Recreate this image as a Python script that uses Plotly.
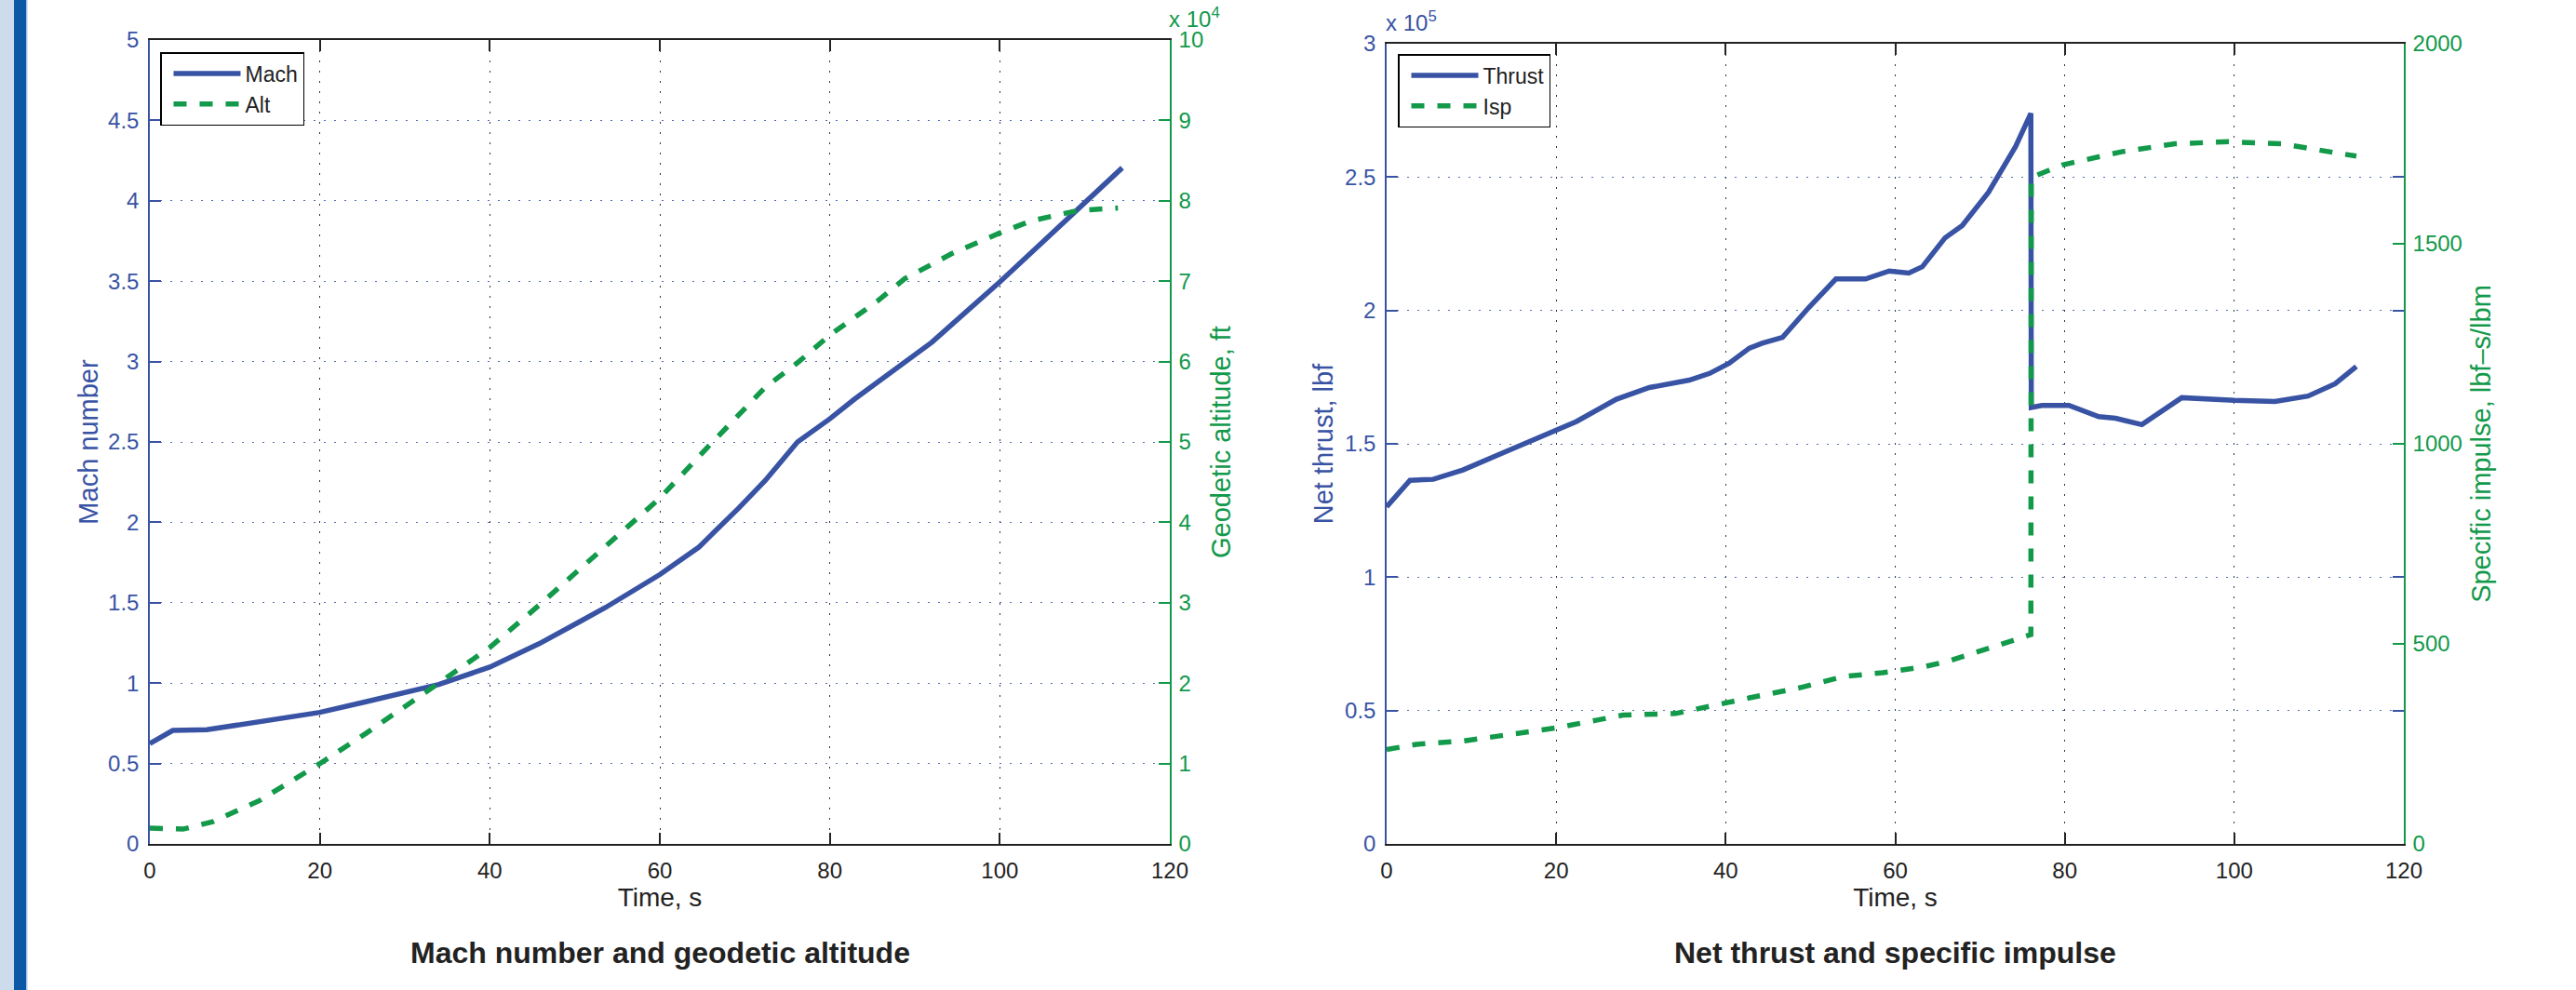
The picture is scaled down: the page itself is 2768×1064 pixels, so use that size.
import plotly.graph_objects as go

# ---- Mach number and geodetic altitude vs time ----
mach_time = [0, 2.7, 6.7, 11.4, 20, 25.4, 34, 40, 45.8, 50.5, 53.6, 60, 64.6, 69.3,
             72.4, 76.2, 80, 82.9, 88.8, 92, 100, 105.3, 114.4]
mach = [0.624, 0.706, 0.71, 0.746, 0.818, 0.884, 0.992, 1.10, 1.245, 1.38, 1.47, 1.675,
        1.846, 2.09, 2.26, 2.50, 2.644, 2.766, 2.99, 3.12, 3.495, 3.76, 4.205]

alt_time = [0, 3.9, 7.4, 12.9, 20, 25.4, 34, 40, 45.8, 53.6, 60, 65.4, 72.4, 76.2, 80,
            85.7, 88.8, 94.3, 100, 103.7, 109.2, 113.9]
alt_ft = [1970, 1840, 2760, 5390, 9990, 13730, 20000, 24440, 29700, 36900, 43000, 49100,
          56800, 59850, 63300, 67600, 70300, 73400, 76000, 77500, 78800, 79100]

# ---- Net thrust and specific impulse vs time ----
thrust_time = [0, 2.75, 5.5, 9.0, 13.7, 18.4, 22.4, 27.1, 31, 35.7, 38.1, 40.4, 42.8, 44.3,
               46.7, 49.8, 53, 56.5, 59.3, 61.6, 63.2, 65.9, 67.9, 71, 74.2, 76.0, 76.05,
               77.3, 80.5, 84, 86, 89.1, 93.8, 100, 104.8, 108.7, 111.9, 114.4]
thrust_lbf = [126400, 136300, 136700, 140200, 146600, 152700, 158400, 166700, 171100, 173900,
              176400, 180200, 185900, 187700, 189900, 201100, 211800, 211800, 214800, 214000,
              216400, 227300, 231800, 244300, 261500, 273900, 163600, 164400, 164400, 160200,
              159600, 157200, 167300, 166300, 165900, 167900, 172500, 179000]

isp_time = [0, 3.5, 9, 14.5, 20, 24.7, 27.9, 34.1, 38.1, 42.8, 49.1, 53.8, 58.5, 63.2, 66.3,
            70.3, 76.0, 76.05, 79.7, 86.7, 93, 99.3, 105.6, 109.5, 114.4]
isp_s = [236, 249, 257, 273, 290, 309, 322, 326, 345, 365, 392, 418, 428, 442, 457, 484, 523,
         1666, 1697, 1730, 1750, 1755, 1750, 1736, 1719]

# ---- tick definitions ----
time_ticks = [0, 20, 40, 60, 80, 100, 120]
alt_tickvals = [0, 10000, 20000, 30000, 40000, 50000, 60000, 70000, 80000, 90000, 100000]
alt_ticktext = ["0", "1", "2", "3", "4", "5", "6", "7", "8", "9", "10"]
thrust_tickvals = [0, 50000, 100000, 150000, 200000, 250000, 300000]
thrust_ticktext = ["0", "0.5", "1", "1.5", "2", "2.5", "3"]
isp_tickvals = [0, 500, 1000, 1500, 2000]

W, H = 2768, 1064
BLUE = "#3953A4"
GREEN = "#12994A"
BLUE_GRID = "rgba(57,83,164,0.85)"
BLACK = "#222222"
FONT = "Liberation Sans, Arial, sans-serif"
LW = 5.5
DASH = "14px,14px"


def px_x(p):
    return p / W


def px_y(p):
    return 1 - p / H


fig = go.Figure()

fig.add_trace(go.Scatter(x=mach_time, y=mach, name="Mach", mode="lines",
                         line=dict(color=BLUE, width=LW), xaxis="x", yaxis="y",
                         legend="legend"))
fig.add_trace(go.Scatter(x=alt_time, y=alt_ft, name="Alt", mode="lines",
                         line=dict(color=GREEN, width=LW, dash=DASH), xaxis="x", yaxis="y2",
                         legend="legend"))
fig.add_trace(go.Scatter(x=thrust_time, y=thrust_lbf, name="Thrust", mode="lines",
                         line=dict(color=BLUE, width=LW), xaxis="x2", yaxis="y3",
                         legend="legend2"))
fig.add_trace(go.Scatter(x=isp_time, y=isp_s, name="Isp", mode="lines",
                         line=dict(color=GREEN, width=LW, dash=DASH), xaxis="x2", yaxis="y4",
                         legend="legend2"))

xcommon = dict(range=[0, 120], tickvals=time_ticks, ticks="inside", ticklen=12, tickwidth=1.5,
               tickcolor=BLACK, showline=True, linecolor=BLACK, linewidth=1.5, mirror="ticks",
               showgrid=True, gridcolor="#333333", gridwidth=1.2, griddash="2px,9px",
               zeroline=False, automargin=False,
               tickfont=dict(size=24, color=BLACK, family=FONT),
               ticklabelstandoff=6,
               title=dict(text="Time, s", font=dict(size=28, color=BLACK, family=FONT),
                          standoff=1))

yleft = dict(ticks="inside", ticklen=12, tickwidth=1.5, tickcolor=BLUE, showline=True,
             linecolor=BLUE, linewidth=1.5, mirror="ticks", showgrid=True,
             gridcolor=BLUE_GRID, gridwidth=1.2, griddash="2px,9px", zeroline=False,
             automargin=False,
             tickfont=dict(size=24, color=BLUE, family=FONT), ticklabelstandoff=5)

yright = dict(ticks="inside", ticklen=12, tickwidth=1.5, tickcolor=GREEN, showline=True,
              linecolor=GREEN, linewidth=1.5, showgrid=False, zeroline=False, side="right",
              automargin=False,
              tickfont=dict(size=24, color=GREEN, family=FONT), ticklabelstandoff=3)

dom1_x = [px_x(161), px_x(1257)]
dom1_y = [px_y(907), px_y(43)]
dom2_x = [px_x(1490), px_x(2583)]
dom2_y = [px_y(907), px_y(47)]

legend_style = dict(xanchor="left", yanchor="top", bgcolor="white", bordercolor="black",
                    borderwidth=1.5, font=dict(size=23, color=BLACK, family=FONT),
                    itemwidth=72, tracegroupgap=0, indentation=8)

fig.update_layout(
    width=W, height=H,
    margin=dict(l=0, r=0, t=0, b=0, pad=0, autoexpand=False),
    paper_bgcolor="white", plot_bgcolor="white",
    font=dict(family=FONT, color=BLACK),
    xaxis=dict(domain=dom1_x, anchor="y", **xcommon),
    yaxis=dict(domain=dom1_y, anchor="x", range=[0, 5], dtick=0.5,
               title=dict(text="Mach number", font=dict(size=29, color=BLUE, family=FONT),
                          standoff=2), **yleft),
    yaxis2=dict(overlaying="y", anchor="x", range=[0, 100000], tickvals=alt_tickvals,
                ticktext=alt_ticktext,
                title=dict(text="Geodetic altitude, ft",
                           font=dict(size=29, color=GREEN, family=FONT), standoff=9),
                **yright),
    xaxis2=dict(domain=dom2_x, anchor="y3", **xcommon),
    yaxis3=dict(domain=dom2_y, anchor="x2", range=[0, 300000], tickvals=thrust_tickvals,
                ticktext=thrust_ticktext,
                title=dict(text="Net thrust, lbf", font=dict(size=29, color=BLUE, family=FONT),
                           standoff=4), **yleft),
    yaxis4=dict(overlaying="y3", anchor="x2", range=[0, 2000], tickvals=isp_tickvals,
                title=dict(text="Specific impulse, lbf\u2013s/lbm",
                           font=dict(size=29, color=GREEN, family=FONT), standoff=11),
                **yright),
    legend=dict(x=px_x(172), y=px_y(56), **legend_style),
    legend2=dict(x=px_x(1502), y=px_y(58), **legend_style),
    showlegend=True,
)

# Panel titles and axis exponent labels
fig.add_annotation(x=(dom1_x[0] + dom1_x[1]) / 2, y=px_y(1024), xref="paper", yref="paper",
                   text="<b>Mach number and geodetic altitude</b>", showarrow=False,
                   font=dict(size=32, color=BLACK, family=FONT), xanchor="center",
                   yanchor="middle")
fig.add_annotation(x=(dom2_x[0] + dom2_x[1]) / 2, y=px_y(1024), xref="paper", yref="paper",
                   text="<b>Net thrust and specific impulse</b>", showarrow=False,
                   font=dict(size=32, color=BLACK, family=FONT), xanchor="center",
                   yanchor="middle")
fig.add_annotation(x=px_x(1254), y=px_y(36), xref="paper", yref="paper", xanchor="left",
                   yanchor="bottom", text="x 10<sup>4</sup>", showarrow=False,
                   font=dict(size=24, color=GREEN, family=FONT))
fig.add_annotation(x=px_x(1487), y=px_y(40), xref="paper", yref="paper", xanchor="left",
                   yanchor="bottom", text="x 10<sup>5</sup>", showarrow=False,
                   font=dict(size=24, color=BLUE, family=FONT))

# Page side band on the left
fig.add_shape(type="rect", xref="paper", yref="paper", x0=0, x1=px_x(15), y0=0, y1=1,
              fillcolor="#CCDCEC", line_width=0, layer="below")
fig.add_shape(type="rect", xref="paper", yref="paper", x0=px_x(15), x1=px_x(28), y0=0, y1=1,
              fillcolor="#0A58A6", line_width=0, layer="below")
fig.add_shape(type="rect", xref="paper", yref="paper", x0=px_x(28), x1=px_x(29.5), y0=0, y1=1,
              fillcolor="#A8C4E4", line_width=0, layer="below")

fig.write_html("out.html")
